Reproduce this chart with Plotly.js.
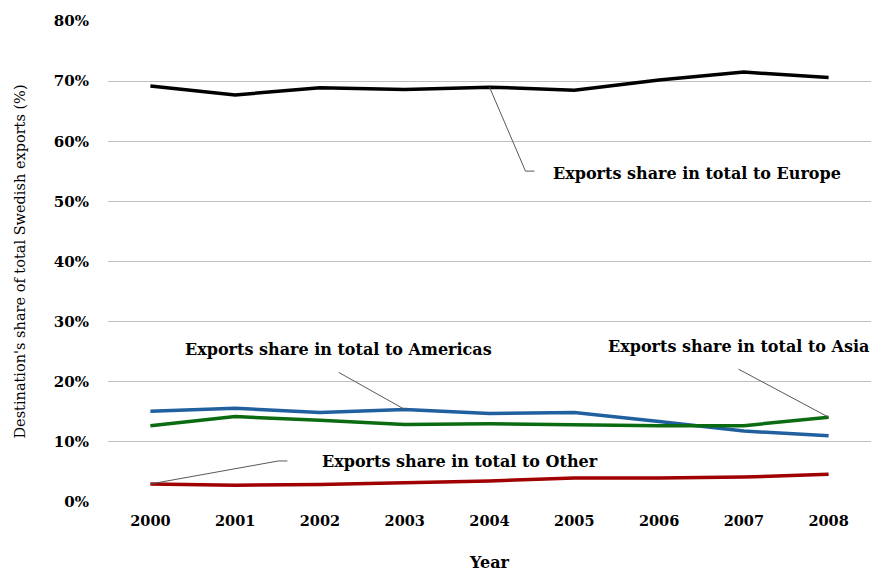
<!DOCTYPE html>
<html>
<head>
<meta charset="utf-8">
<script src="https://cdn.plot.ly/plotly-3.0.1.min.js"></script>
<style>html,body{margin:0;padding:0;background:#fff;}#chart{width:873px;height:572px;}</style>
</head>
<body>
<div id="chart"></div>
<script>
const years = [2000, 2001, 2002, 2003, 2004, 2005, 2006, 2007, 2008];
const europe = [69.2, 67.7, 68.9, 68.6, 69.0, 68.5, 70.2, 71.5, 70.6];
const americas = [15.1, 15.6, 14.9, 15.4, 14.7, 14.9, 13.4, 11.8, 11.0];
const asia = [12.7, 14.2, 13.6, 12.9, 13.0, 12.8, 12.7, 12.7, 14.1];
const other = [3.0, 2.8, 2.9, 3.2, 3.5, 4.0, 4.0, 4.15, 4.6];
const yTicks = [0, 10, 20, 30, 40, 50, 60, 70, 80];
const labels = ["Exports share in total to Europe", "Exports share in total to Americas", "Exports share in total to Asia", "Exports share in total to Other"];

const FONT = "DejaVu Serif";
const mk = (y, color, name) => ({x: years, y: y, type: 'scatter', mode: 'lines', name: name,
  line: {color: color, width: 3.5}, hoverinfo: 'x+y'});
const data = [
  mk(europe, '#000000', 'Europe'),
  mk(americas, '#21609f', 'Americas'),
  mk(asia, '#0a6b10', 'Asia'),
  mk(other, '#a00000', 'Other')
];

const lead = {color: '#595959', width: 1};
function leader(xi, yv, path) {
  return {type: 'path', xref: 'x', yref: 'y', xsizemode: 'pixel', ysizemode: 'pixel',
    xanchor: xi, yanchor: yv, path: path, line: lead, layer: 'above'};
}
const shapes = [
  leader(years[4], europe[4], 'M0,0L36,-84L45,-84'),
  leader(years[3], americas[3], 'M0,0L-66,37'),
  leader(years[8], asia[8], 'M0,0L-90,48'),
  leader(years[0], other[0], 'M0,0L128,23L137,23')
];

const annFont = {family: FONT, size: 16, color: '#000'};
const annotations = [
  {x: 2004.73, y: 54.7, xanchor: 'left', text: '<b>' + labels[0] + '</b>'},
  {x: 2000.39, y: 25.3, xanchor: 'left', text: '<b>' + labels[1] + '</b>'},
  {x: 2008.5, y: 25.8, xanchor: 'right', text: '<b>' + labels[2] + '</b>'},
  {x: 2002.0, y: 6.8, xanchor: 'left', text: '<b>' + labels[3] + '</b>'}
].map(a => Object.assign({xref: 'x', yref: 'y', yanchor: 'middle', showarrow: false, font: annFont}, a));

const layout = {
  width: 873, height: 572,
  margin: {l: 108, r: 2, t: 21, b: 70},
  paper_bgcolor: '#fff', plot_bgcolor: '#fff',
  showlegend: false,
  font: {family: FONT, color: '#000'},
  xaxis: {
    range: [1999.5, 2008.5], tickvals: years, ticktext: years.map(y => '<b>' + y + '</b>'),
    showgrid: false, zeroline: false, showline: false, ticks: '',
    tickfont: {family: FONT, size: 14.5, color: '#000'},
    ticklabelstandoff: 8,
    title: {text: '<b>Year</b>', font: {family: FONT, size: 16, color: '#000'}, standoff: 35}
  },
  yaxis: {
    range: [0, 80], tickvals: yTicks, ticktext: yTicks.map(v => '<b>' + v + '%</b>'),
    showgrid: true, gridcolor: '#bfbfbf', gridwidth: 1, zeroline: false, showline: false, ticks: '',
    tickfont: {family: FONT, size: 15, color: '#000'},
    ticklabelstandoff: 18,
    title: {text: "Destination's share of total Swedish exports (%)", font: {family: FONT, size: 14.5, color: '#000'}, standoff: 24}
  },
  shapes: shapes,
  annotations: annotations
};
Plotly.newPlot('chart', data, layout, {displayModeBar: false, staticPlot: true});
</script>
</body>
</html>
